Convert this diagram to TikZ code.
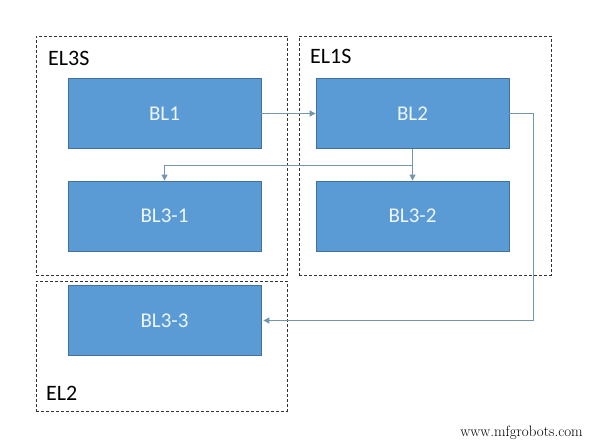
\documentclass[tikz,border=0pt]{standalone}
\usepackage{fontspec}
\setmainfont{Carlito}
\newfontfamily\wmfont{Latin Modern Roman}
\usetikzlibrary{arrows.meta}
\definecolor{boxfill}{HTML}{5B9BD5}
\definecolor{boxline}{HTML}{41719C}
\definecolor{conn}{HTML}{7496AD}
\definecolor{boxtext}{HTML}{EEF6FF}
\begin{document}
\begin{tikzpicture}[x=1pt,y=-1pt,
  blk/.style={draw=boxline,fill=boxfill,line width=0.8pt,minimum width=193pt,minimum height=70pt,inner sep=0pt,text=boxtext,font=\fontsize{21}{24}\selectfont},
  grp/.style={draw=black!80,dash pattern=on 3pt off 2pt,line width=0.5pt,inner sep=0pt},
  lbl/.style={anchor=west,inner sep=0pt,font=\fontsize{22}{26}\selectfont},
  link/.style={draw=conn,line width=0.9pt,-{Triangle[length=6pt,width=6pt]}}]
\useasboundingbox (0,0) rectangle (593,443);
\fill[white] (0,0) rectangle (593,443);
% groups
\node[grp,minimum width=251pt,minimum height=239pt] (el3s) at (161.5,155.5) {};
\node[grp,minimum width=252pt,minimum height=239pt] (el1s) at (425,155.5) {};
\node[grp,minimum width=251pt,minimum height=130pt] (el2) at (161.5,346) {};
\node[lbl] (l3s) at (48,58) {EL3S};
\node[lbl] (l1s) at (310,56) {EL1S};
\node[lbl] (l2) at (46,393) {EL2};
% blocks
\node[blk] (bl1) at (164.5,113.5) {BL1};
\node[blk] (bl2) at (412.5,113.5) {BL2};
\node[blk] (bl31) at (164.5,216) {BL3-1};
\node[blk] (bl32) at (412.5,216) {BL3-2};
\node[blk] (bl33) at (164.5,320.5) {BL3-3};
% connectors
\coordinate (br) at (bl2.south |- 0,165);
\coordinate (rc) at (533,0);
\draw[link] (bl1.east) -- (bl2.west);
\draw[link] (bl2.south) -- (bl32.north);
\draw[link] (br) -| (bl31.north);
\draw[link,shorten >=2pt] (bl2.east) -- (bl2.east -| rc) -- (rc |- bl33.east) -- (bl33.east);
% watermark
\node[anchor=east,inner sep=0pt,font=\wmfont\fontsize{15}{18}\selectfont] (wm) at (583,433) {www.mfgrobots.com};
\end{tikzpicture}
\end{document}
